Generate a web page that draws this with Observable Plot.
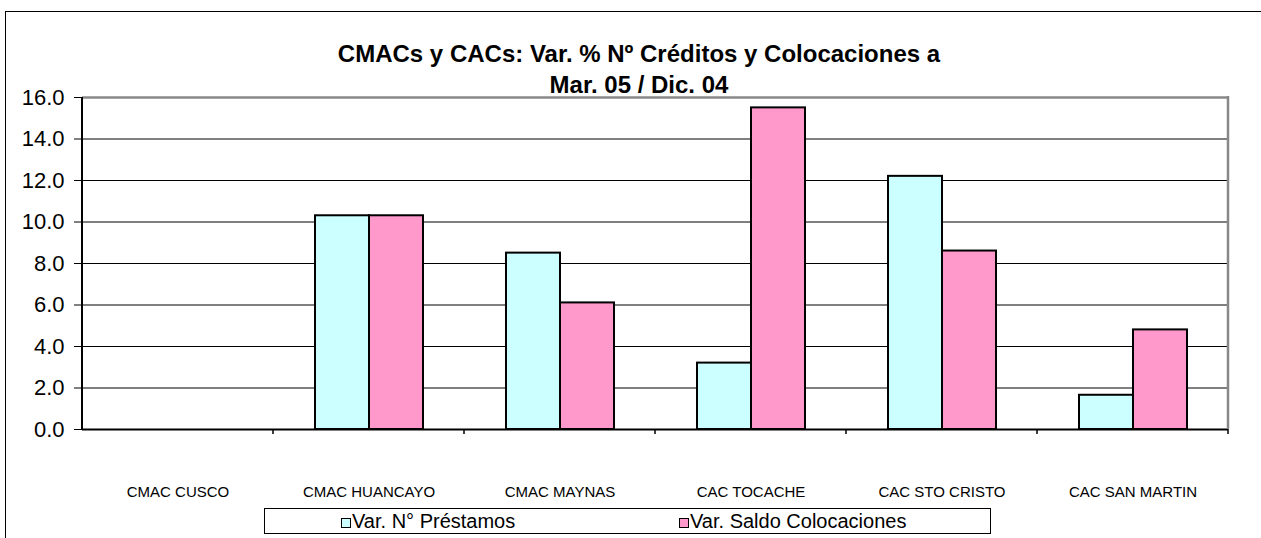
<!DOCTYPE html>
<html>
<head>
<meta charset="utf-8">
<script src="https://cdn.jsdelivr.net/npm/d3@7"></script>
<script src="https://cdn.jsdelivr.net/npm/@observablehq/plot@0.6"></script>
<style>
  body { margin: 0; background: #fff; }
  #wrap { position: relative; width: 1261px; height: 538px; overflow: hidden; font-family: Arial, "Liberation Sans", sans-serif; color: #000; }
  #frame { position: absolute; left: 5px; top: 11px; width: 1300px; height: 600px; border-left: 1.5px solid #000; border-top: 1.5px solid #000; }
  #chart { position: absolute; left: 0; top: 0; }
  #title { position: absolute; left: 0; width: 1278px; top: 38px; text-align: center; font-weight: bold; font-size: 24px; line-height: 31px; white-space: nowrap; }
  #legend { position: absolute; left: 264px; top: 508px; width: 725px; height: 24px; border: 1px solid #000; background: #fff; font-size: 20px; }
  .item { position: absolute; top: 0; line-height: 24px; white-space: nowrap; }
  .key { display: inline-block; box-sizing: border-box; width: 10px; height: 10px; border: 1.5px solid #000; margin-right: 1px; }
</style>
</head>
<body>
<div id="wrap">
  <div id="frame"></div>
  <div id="chart"></div>
  <div id="title"></div>
  <div id="legend"></div>
</div>
<script>
// ---- data ----
const titleLines = ["CMACs y CACs: Var. % Nº Créditos y Colocaciones a", "Mar. 05 / Dic. 04"];
const categories = ["CMAC CUSCO", "CMAC HUANCAYO", "CMAC MAYNAS", "CAC TOCACHE", "CAC STO CRISTO", "CAC SAN MARTIN"];
const series = ["Var. N° Préstamos", "Var. Saldo Colocaciones"];
const prestamos = [null, 10.3, 8.5, 3.2, 12.2, 1.65];
const colocaciones = [null, 10.3, 6.1, 15.5, 8.6, 4.8];
const yTicks = [0, 2, 4, 6, 8, 10, 12, 14, 16];
const colors = ["#CCFFFF", "#FF99CC"];

const rows = [];
categories.forEach((c, i) => {
  rows.push({cat: c, serie: series[0], value: prestamos[i]});
  rows.push({cat: c, serie: series[1], value: colocaciones[i]});
});
const bars = rows.filter(d => d.value != null);
const yMin = yTicks[0], yMax = yTicks[yTicks.length - 1];

// category boundary ticks, left axis line and right frame line, per facet
const edges = Plot.dot(categories.map((c, i) => ({cat: c, i})), {
  fx: "cat",
  x: () => series[0],
  y: () => yMin,
  render(index, scales, values, dim) {
    const g = d3.create("svg:g");
    const xl = dim.marginLeft, xr = dim.width - dim.marginRight;
    const y0 = scales.y(yMin), yTop = scales.y(yMax);
    for (const j of index) {
      const i = j;
      if (i > 0) g.append("line").attr("x1", xl).attr("x2", xl).attr("y1", y0).attr("y2", y0 + 5).attr("stroke", "#000").attr("stroke-width", 1.5);
      if (i === 0) g.append("line").attr("x1", xl).attr("x2", xl).attr("y1", yTop).attr("y2", y0 + 1).attr("stroke", "#000").attr("stroke-width", 2);
      if (i === categories.length - 1) {
        g.append("line").attr("x1", xr).attr("x2", xr).attr("y1", yTop - 1).attr("y2", y0).attr("stroke", "#888").attr("stroke-width", 2.5);
        g.append("line").attr("x1", xr).attr("x2", xr).attr("y1", y0).attr("y2", y0 + 5).attr("stroke", "#000").attr("stroke-width", 1.5);
      }
    }
    return g.node();
  }
});

const chart = Plot.plot({
  width: 1261,
  height: 538,
  marginLeft: 80,
  marginRight: 32,
  marginTop: 97,
  marginBottom: 109,
  style: {fontFamily: 'Arial, "Liberation Sans", sans-serif', background: "transparent", color: "#000", overflow: "visible"},
  fx: {domain: categories, padding: 0, label: null},
  x: {domain: series, paddingInner: 0, paddingOuter: 0.757, axis: null},
  y: {domain: [yMin, yMax], label: null},
  color: {domain: series, range: colors},
  marks: [
    Plot.gridY(yTicks.slice(1, -1), {stroke: "#000", strokeOpacity: 1, strokeWidth: 1}),
    Plot.ruleY([yMax], {stroke: "#888", strokeWidth: 2.5}),
    Plot.barY(bars, {fx: "cat", x: "serie", y: "value", fill: "serie", stroke: "#000", strokeWidth: 2}),
    Plot.ruleY([yMin], {stroke: "#000", strokeWidth: 2}),
    edges,
    Plot.axisY(yTicks, {tickSize: 8, tickPadding: 10, tickFormat: d => d.toFixed(1), fontSize: 22, label: null, stroke: "#000"}),
    Plot.axisFx({anchor: "bottom", tickSize: 0, tickPadding: 57, fontSize: 15, label: null})
  ]
});
document.getElementById("chart").appendChild(chart);

const t = document.getElementById("title");
titleLines.forEach(s => { const d = document.createElement("div"); d.textContent = s; t.appendChild(d); });

const lg = document.getElementById("legend");
const itemLeft = [76, 414];
series.forEach((s, i) => {
  const it = document.createElement("div");
  it.className = "item";
  it.style.left = itemLeft[i] + "px";
  const k = document.createElement("span");
  k.className = "key";
  k.style.background = colors[i];
  it.appendChild(k);
  it.appendChild(document.createTextNode(s));
  lg.appendChild(it);
});
</script>
</body>
</html>
